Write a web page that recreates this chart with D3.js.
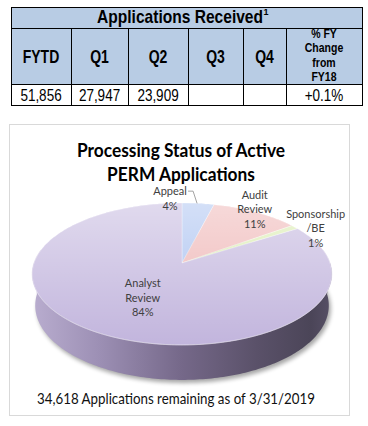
<!DOCTYPE html>
<html><head><meta charset="utf-8">
<script src="https://cdn.jsdelivr.net/npm/d3@7/dist/d3.min.js"></script>
<style>html,body{margin:0;padding:0;background:#fff;}svg{display:block;}</style>
</head><body>
<script>
// ---------- DATA ----------
const tableTitle = "Applications Received";
const tableFootnote = "1";
const tableHeaders = ["FYTD", "Q1", "Q2", "Q3", "Q4", "% FY\nChange\nfrom\nFY18"];
const tableValues = ["51,856", "27,947", "23,909", "", "", "+0.1%"];
const chartTitle = ["Processing Status of Active", "PERM Applications"];
const sliceNames = [["Appeal"], ["Audit", "Review"], ["Sponsorship", "/BE"], ["Analyst", "Review"]];
const sliceValues = [4, 11, 1, 84];
const footerText = "34,618 Applications remaining as of 3/31/2019";

// ---------- LAYOUT / STYLE ----------
const W = 368, H = 426;
const sliceColors = ["#a8c0f0", "#eeb4b4", "#d9ebae", "#c2b5dd"];
const colWidths = [60, 57, 60, 55, 43, 76];
const labelLayout = [
  {r: 1.0, dx: -28, dy: -5, leader: true},
  {r: 1.0, dx: -1, dy: -3},
  {r: 1.0, dx: 21, dy: 1},
  {r: 0.5, dx: -1, dy: 2}
];

const svg = d3.select("body").append("svg").attr("width", W).attr("height", H);
const defs = svg.append("defs");

function txt(parent, x, y, str, size, sy, opts = {}) {
  const t = parent.append("text").attr("transform", `translate(${x},${y}) scale(1,${sy})`)
    .attr("font-size", size).text(str);
  if (opts.anchor) t.attr("text-anchor", opts.anchor);
  if (opts.weight) t.attr("font-weight", opts.weight);
  return t;
}
function fit(sel, target) {
  const w = sel.node().getComputedTextLength();
  const fs = parseFloat(sel.attr("font-size"));
  sel.attr("font-size", fs * target / w);
  return fs * target / w;
}

// ---------- TABLE ----------
const tX0 = 11, tY0 = 7, tY1 = 28, tY2 = 84, tY3 = 105;
const edges = [tX0];
colWidths.forEach(w => edges.push(edges[edges.length - 1] + w));
const colX = d3.scaleOrdinal().domain(d3.range(tableHeaders.length)).range(edges.slice(0, -1));
const colW = d3.scaleOrdinal().domain(d3.range(tableHeaders.length)).range(colWidths);
const tX1 = edges[edges.length - 1];

const tbl = svg.append("g").attr("font-family", "'Liberation Sans', Arial, sans-serif").attr("fill", "#000");
tbl.append("rect").attr("x", tX0).attr("y", tY0).attr("width", tX1 - tX0).attr("height", tY2 - tY0).attr("fill", "#b8cce4");
tbl.append("rect").attr("x", tX0).attr("y", tY2).attr("width", tX1 - tX0).attr("height", tY3 - tY2).attr("fill", "#fff");

const lines = tbl.append("g").attr("stroke", "#000").attr("stroke-width", 1).attr("shape-rendering", "crispEdges");
[tY0, tY1, tY2, tY3].forEach(y => lines.append("line").attr("x1", tX0).attr("x2", tX1 + 1).attr("y1", y + 0.5).attr("y2", y + 0.5));
edges.forEach((x, i) => lines.append("line").attr("x1", x + 0.5).attr("x2", x + 0.5)
  .attr("y1", (i === 0 || i === edges.length - 1) ? tY0 : tY1).attr("y2", tY3 + 1));

const tt = txt(tbl, 180, 23, tableTitle, 15, 1.15, {anchor: "middle", weight: "bold"});
fit(tt, 166);
const ttW = tt.node().getComputedTextLength();
txt(tbl, 180 + ttW / 2 + 0.5, 15, tableFootnote, 9, 1.1, {weight: "bold"});

tableHeaders.forEach((h, i) => {
  const parts = h.split("\n");
  const cx = colX(i) + colW(i) / 2;
  if (parts.length === 1) {
    txt(tbl, cx, 63, h, 14, 1.3, {anchor: "middle", weight: "bold"});
  } else {
    parts.forEach((p, j) => txt(tbl, cx, 37.5 + j * 14.6, p, 10.5, 1.3, {anchor: "middle", weight: "bold"}));
  }
});
tableValues.forEach((v, i) => txt(tbl, colX(i) + colW(i) / 2, 100.5, v, 13.5, 1.25, {anchor: "middle"}));

// ---------- CHART PANEL ----------
svg.append("rect").attr("x", 9.5).attr("y", 124.5).attr("width", 340).attr("height", 291)
  .attr("fill", "#fff").attr("stroke", "#d9d9d9").attr("stroke-width", 1);

const titleG = svg.append("g").attr("font-family", "Lato, 'Open Sans', sans-serif").attr("fill", "#000");
const t1 = txt(titleG, 181, 157, chartTitle[0], 19, 1.12, {anchor: "middle", weight: "bold"});
const tfs = fit(t1, 208);
txt(titleG, 181, 181, chartTitle[1], tfs, 1.12, {anchor: "middle", weight: "bold"});

// ---------- 3D PIE ----------
const cx = 182, cy = 263;
const alpha = 27.9 * Math.PI / 180, sinA = Math.sin(alpha), cosA = Math.cos(alpha);
const D = 5.71, f = 845, thick = 0.244;
function proj(theta, r, y) {
  const X = r * Math.sin(theta), Z = -r * Math.cos(theta);
  const v = y * cosA - Z * sinA;
  const w = D - (Z * cosA + y * sinA);
  return [cx + f * X / w, cy - f * v / w];
}
function rimPts(a0, a1, y) {
  const n = Math.max(2, Math.ceil(Math.abs(a1 - a0) / (Math.PI / 180)));
  return d3.range(n + 1).map(i => proj(a0 + (a1 - a0) * i / n, 1, y));
}

const arcs = d3.pie().sort(null).value(d => d)(sliceValues);

const flt = defs.append("filter").attr("id", "sh").attr("x", "-20%").attr("y", "-20%").attr("width", "140%").attr("height", "140%");
flt.append("feGaussianBlur").attr("stdDeviation", 2.2);

const sideGrad = defs.append("linearGradient").attr("id", "sideGrad").attr("gradientUnits", "userSpaceOnUse")
  .attr("x1", 32).attr("x2", 332).attr("y1", 0).attr("y2", 0);
[[0, "#b9adcf"], [0.22, "#9d90b5"], [0.5, "#756889"], [0.75, "#5a5169"], [0.93, "#4b4558"], [1, "#575066"]]
  .forEach(([o, c]) => sideGrad.append("stop").attr("offset", o).attr("stop-color", c));

const topGrad = defs.append("linearGradient").attr("id", "topGrad").attr("gradientUnits", "userSpaceOnUse")
  .attr("x1", 0).attr("x2", 0).attr("y1", 203).attr("y2", 345);
topGrad.append("stop").attr("offset", 0).attr("stop-color", "#fff").attr("stop-opacity", 0.5);
topGrad.append("stop").attr("offset", 1).attr("stop-color", "#fff").attr("stop-opacity", 0);

const line = d3.line();
const pieG = svg.append("g");

const bottomRim = rimPts(0, 2 * Math.PI, -thick);
pieG.append("path").attr("d", line(bottomRim.map(p => [p[0] + 2, p[1] + 3])) + "Z")
  .attr("fill", "#000").attr("opacity", 0.35).attr("filter", "url(#sh)");

arcs.forEach((a, i) => {
  const s = Math.max(a.startAngle, Math.PI / 2), e = Math.min(a.endAngle, 3 * Math.PI / 2);
  if (e <= s) return;
  const top = rimPts(s, e, 0), bot = rimPts(e, s, -thick);
  pieG.append("path").attr("d", line(top.concat(bot)) + "Z")
    .attr("fill", i === 3 ? "url(#sideGrad)" : d3.color(sliceColors[i]).darker(1));
});

arcs.forEach((a, i) => {
  const pts = [[cx, cy]].concat(rimPts(a.startAngle, a.endAngle, 0));
  pieG.append("path").attr("d", line(pts) + "Z").attr("fill", sliceColors[i])
    .attr("stroke", "#fff").attr("stroke-opacity", 0.5).attr("stroke-width", 0.6).attr("stroke-linejoin", "round");
});
pieG.append("path").attr("d", line(rimPts(0, 2 * Math.PI, 0)) + "Z").attr("fill", "url(#topGrad)");
pieG.append("path").attr("d", line(rimPts(Math.PI / 2 - 0.2, 3 * Math.PI / 2 + 0.2, 0)))
  .attr("fill", "none").attr("stroke", "#ddd6ea").attr("stroke-width", 0.8).attr("opacity", 0.7);

// labels
const labG = svg.append("g").attr("font-family", "Lato, 'Open Sans', sans-serif").attr("fill", "#404040");
const probe = labG.append("text").attr("font-size", 12).text("Sponsorship");
const lfs = fit(probe, 59);
probe.remove();
const lh = 14.6;
arcs.forEach((a, i) => {
  const L = labelLayout[i];
  const mid = (a.startAngle + a.endAngle) / 2;
  const p = proj(mid, L.r, 0);
  const ls = sliceNames[i].concat([a.data + "%"]);
  const x = p[0] + L.dx, yc = p[1] + L.dy;
  const y0 = yc - (ls.length - 1) * lh / 2 + 4;
  ls.forEach((t, j) => txt(labG, x, y0 + j * lh, t, lfs, 1.08, {anchor: "middle"}));
  if (L.leader) {
    const p1 = proj(mid, 1.0, 0);
    svg.append("path").attr("d", line([[x + 18, y0 - 4], [x + 23, y0 - 4], [p1[0] - 1, p1[1]]]))
      .attr("fill", "none").attr("stroke", "#8c8c8c").attr("stroke-width", 0.8);
  }
});

// footer
const ftG = svg.append("g").attr("font-family", "Lato, 'Open Sans', sans-serif").attr("fill", "#111");
const ft = txt(ftG, 176, 404, footerText, 14, 1.1, {anchor: "middle"});
fit(ft, 278);
</script>
</body></html>
